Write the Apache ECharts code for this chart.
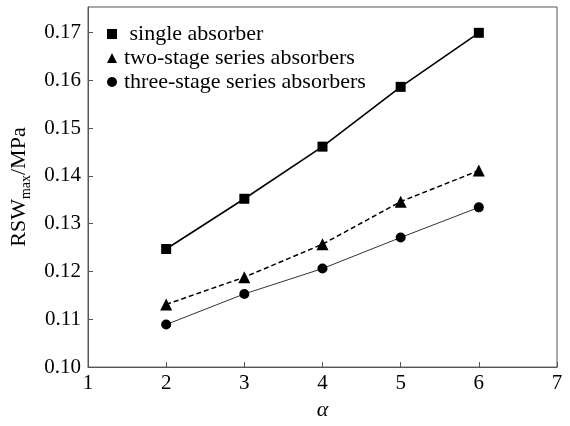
<!DOCTYPE html>
<html>
<head>
<meta charset="utf-8">
<script src="https://cdn.jsdelivr.net/npm/echarts@6/dist/echarts.min.js"></script>
<style>html,body{margin:0;padding:0;background:#fff}#c{width:570px;height:426px}</style>
</head>
<body>
<div id="c"></div>
<script>
var alphaValues = [2, 3, 4, 5, 6];
var singleAbsorber = [0.1247, 0.1352, 0.1461, 0.1586, 0.1699];
var twoStage = [0.1131, 0.1188, 0.1257, 0.1346, 0.1411];
var threeStage = [0.1089, 0.1153, 0.1206, 0.1271, 0.1334];
var seriesNames = ['single absorber', 'two-stage series absorbers', 'three-stage series absorbers'];
var xTicks = [1, 2, 3, 4, 5, 6, 7];
var yTicks = [0.10, 0.11, 0.12, 0.13, 0.14, 0.15, 0.16, 0.17];

function pairs(xs, ys) { return xs.map(function (x, i) { return [x, ys[i]]; }); }

var serif = 'Liberation Serif';
var axisColor = '#555';
var chart = echarts.init(document.getElementById('c'), null, {renderer: 'canvas'});
chart.setOption({
  animation: false,
  backgroundColor: '#fff',
  grid: {left: 88, right: 13, top: 7, bottom: 50, show: true, borderColor: axisColor, borderWidth: 1, containLabel: false},
  legend: {
    orient: 'vertical', left: 102, top: 18, itemGap: 2, itemWidth: 10, itemHeight: 10,
    textStyle: {fontFamily: serif, fontSize: 22, color: '#000', padding: [0, 0, 0, 2]},
    formatter: function (n) { return n === seriesNames[0] ? ' ' + n : n; },
    data: [
      {name: seriesNames[0], icon: 'rect', itemStyle: {color: '#000'}},
      {name: seriesNames[1], icon: 'triangle', itemStyle: {color: '#000'}},
      {name: seriesNames[2], icon: 'circle', itemStyle: {color: '#000'}}
    ]
  },
  xAxis: {
    type: 'value', min: xTicks[0], max: xTicks[xTicks.length - 1], interval: 1,
    axisLine: {lineStyle: {color: axisColor, width: 1}},
    axisTick: {inside: true, length: 5, lineStyle: {color: axisColor}},
    splitLine: {show: false},
    axisLabel: {fontFamily: serif, fontSize: 21, color: '#000', margin: 6},
    name: '\u03b1', nameLocation: 'middle', nameGap: 27,
    nameTextStyle: {fontFamily: serif, fontSize: 22, fontStyle: 'italic', color: '#000'}
  },
  yAxis: {
    type: 'value', min: yTicks[0], max: 0.1753, interval: 0.01,
    axisLine: {lineStyle: {color: axisColor, width: 1}},
    axisTick: {inside: true, length: 5, lineStyle: {color: axisColor}},
    splitLine: {show: false},
    axisLabel: {fontFamily: serif, fontSize: 21, color: '#000', margin: 7, showMaxLabel: false,
      formatter: function (v) { return v.toFixed(2); }},
    name: '{a|RSW}{b|max}{a|/MPa}', nameLocation: 'middle', nameGap: 52,
    nameTextStyle: {
      fontFamily: serif, color: '#000',
      rich: {
        a: {fontFamily: serif, fontSize: 22, lineHeight: 28, color: '#000'},
        b: {fontFamily: serif, fontSize: 14, lineHeight: 18, verticalAlign: 'bottom', color: '#000'}
      }
    }
  },
  series: [
    {name: seriesNames[0], type: 'line', data: pairs(alphaValues, singleAbsorber),
      symbol: 'rect', symbolSize: 10, itemStyle: {color: '#000'},
      lineStyle: {color: '#000', width: 1.6, type: 'solid'}},
    {name: seriesNames[1], type: 'line', data: pairs(alphaValues, twoStage),
      symbol: 'triangle', symbolSize: 12, itemStyle: {color: '#000'},
      lineStyle: {color: '#000', width: 1.5, type: [5, 3]}},
    {name: seriesNames[2], type: 'line', data: pairs(alphaValues, threeStage),
      symbol: 'circle', symbolSize: 10, itemStyle: {color: '#000'},
      lineStyle: {color: '#333', width: 1, type: 'solid'}}
  ]
});
</script>
</body>
</html>
